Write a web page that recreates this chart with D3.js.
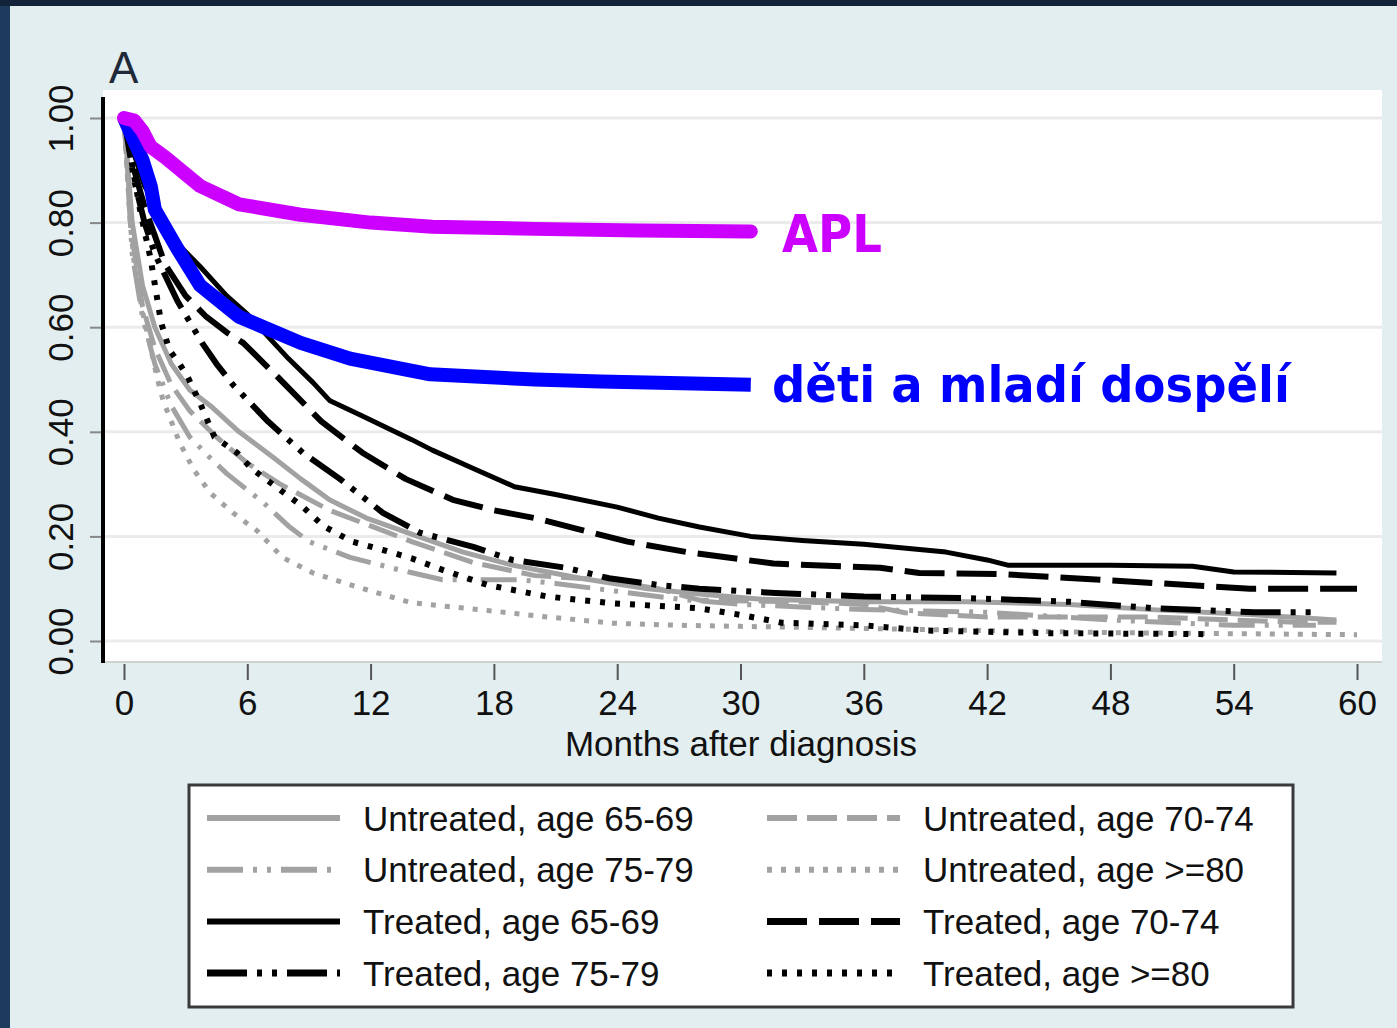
<!doctype html>
<html lang="cs">
  <head>
    <meta charset="utf-8">
    <title>Survival - months after diagnosis</title>
    <script src="https://cdn.jsdelivr.net/npm/d3@7"></script>
    <style>
      body { margin: 0; background: #e2eef0; }
      svg { display: block; }
    </style>
  </head>
  <body>
    <svg width="1397" height="1028"></svg>
    <script>
      // axis ticks
      var xTicks = [0, 6, 12, 18, 24, 30, 36, 42, 48, 54, 60];
      var yTicks = [0, 0.2, 0.4, 0.6, 0.8, 1.0];

      // [months, survival]
      var untreated6569 = [[0,1],[0.4,0.8],[0.9,0.68],[1.5,0.6],[2.3,0.53],[3.2,0.48],[4.2,0.45],[5.6,0.4],[7.3,0.35],[8.6,0.31],[10,0.27],[11.8,0.235],[14.3,0.2],[16.5,0.17],[18.9,0.145],[22.2,0.12],[25.5,0.1],[28,0.09],[31,0.08],[36,0.075],[41,0.075],[46,0.07],[50,0.06],[55,0.05],[59,0.04]];
      var untreated7074 = [[0,1],[0.4,0.77],[0.9,0.64],[1.5,0.56],[2.3,0.49],[3.2,0.44],[4.5,0.39],[6,0.34],[7.6,0.3],[10,0.25],[12,0.22],[14,0.19],[17,0.15],[20,0.125],[23,0.118],[26,0.1],[28,0.078],[33,0.075],[36,0.07],[38,0.054],[42,0.046],[50,0.046],[54,0.04],[57,0.036],[59,0.036]];
      var untreated7579 = [[0,1],[0.4,0.74],[0.9,0.62],[1.5,0.53],[2.3,0.45],[3.2,0.39],[4.2,0.35],[5,0.32],[6.8,0.264],[8,0.22],[9,0.19],[11,0.16],[13.4,0.136],[15.5,0.117],[19.3,0.117],[21,0.11],[24,0.095],[27,0.08],[30,0.07],[36,0.06],[42,0.055],[48,0.04],[54,0.03],[58,0.03]];
      var untreated80 = [[0,1],[0.3,0.8],[0.5,0.72],[0.9,0.63],[1.3,0.56],[1.6,0.505],[1.9,0.46],[2.7,0.38],[3.4,0.327],[4.2,0.283],[5.3,0.245],[6.5,0.21],[7.7,0.16],[9.2,0.13],[10.8,0.11],[12.5,0.09],[14,0.073],[17.3,0.06],[20.6,0.046],[23.8,0.034],[27,0.03],[30,0.028],[36,0.024],[42,0.02],[48,0.016],[54,0.014],[60,0.012]];
      var treated6569 = [[0,1],[0.5,0.93],[1,0.87],[1.6,0.83],[2.6,0.76],[3.7,0.716],[5,0.66],[6,0.625],[8,0.54],[9.2,0.494],[10,0.46],[11.6,0.43],[14,0.385],[15,0.365],[17,0.33],[19,0.295],[21,0.28],[24,0.256],[26,0.235],[28,0.218],[30.5,0.2],[33,0.192],[36,0.185],[40,0.17],[42,0.155],[43,0.145],[48,0.145],[52,0.143],[54,0.132],[59,0.13]];
      var treated7074 = [[0,1],[0.5,0.9],[1,0.83],[2,0.72],[3,0.66],[4,0.62],[5,0.59],[5.8,0.57],[7.6,0.5],[9.6,0.42],[11.6,0.36],[13.7,0.31],[16,0.27],[18,0.25],[20,0.235],[22,0.215],[24.5,0.19],[27.4,0.17],[31.6,0.148],[36.8,0.14],[38.7,0.13],[42.6,0.128],[47.5,0.117],[54.8,0.1],[60,0.1]];
      var treated7579 = [[0,1],[0.5,0.88],[1,0.8],[1.5,0.74],[2.6,0.65],[3.8,0.57],[4.5,0.53],[5.3,0.49],[7,0.42],[8.7,0.36],[10.5,0.31],[12.6,0.245],[14.4,0.207],[17,0.18],[18.9,0.155],[21.5,0.14],[23.6,0.12],[26,0.107],[28,0.1],[31.7,0.092],[36,0.085],[41,0.082],[46,0.075],[50,0.063],[55,0.055],[58.2,0.055]];
      var treated80 = [[0,1],[0.4,0.91],[0.8,0.82],[1.3,0.73],[1.8,0.61],[2.2,0.557],[2.7,0.53],[3.1,0.505],[3.7,0.455],[4.4,0.39],[5.5,0.36],[6.2,0.33],[7.9,0.28],[8.6,0.26],[9.7,0.22],[11.1,0.19],[12.6,0.174],[14,0.158],[15.5,0.136],[17.7,0.107],[20.6,0.085],[23.8,0.072],[27.9,0.063],[30,0.05],[32,0.035],[36,0.03],[39,0.02],[45,0.015],[53,0.013]];
      var apl = [[0,1],[0.5,0.995],[0.9,0.975],[1.3,0.945],[2,0.925],[3.7,0.87],[5.6,0.835],[8.6,0.815],[12,0.8],[15,0.792],[20,0.788],[25,0.785],[30.5,0.783]];
      var youngAdults = [[0,1],[0.9,0.92],[1.3,0.87],[1.5,0.825],[2.6,0.75],[3.7,0.68],[5.6,0.62],[8.6,0.57],[11,0.54],[14.9,0.51],[20,0.5],[23.2,0.496],[30.5,0.49]];

      var legendLabels = ["Untreated, age 65-69", "Untreated, age 70-74", "Untreated, age 75-79", "Untreated, age >=80",
                          "Treated, age 65-69", "Treated, age 70-74", "Treated, age 75-79", "Treated, age >=80"];

      var gray = "#a2a2a2";
      var series = [
        {data: untreated6569, color: gray, width: 5, dash: null},
        {data: untreated7074, color: gray, width: 5, dash: "30,10"},
        {data: untreated7579, color: gray, width: 5, dash: "36,10,4,10,4,10"},
        {data: untreated80, color: gray, width: 5, dash: "5,9"},
        {data: treated6569, color: "#000", width: 5, dash: null},
        {data: treated7074, color: "#000", width: 6, dash: "40,12"},
        {data: treated7579, color: "#000", width: 6, dash: "40,10,5,10,5,10"},
        {data: treated80, color: "#000", width: 6, dash: "5,10"}
      ];
      series.forEach(function(s, i) { s.label = legendLabels[i]; });

      var svg = d3.select("svg");
      var font = "'Liberation Sans', Arial, sans-serif";

      // dark frame of the slide
      svg.append("rect").attr("x", 0).attr("y", 0).attr("width", 10).attr("height", 1028).attr("fill", "#1d3b5c");
      svg.append("rect").attr("x", 0).attr("y", 0).attr("width", 1397).attr("height", 6).attr("fill", "#13243a");

      var x = d3.scaleLinear().domain([0, 60]).range([124, 1357]);
      var y = d3.scaleLinear().domain([0, 1]).range([641, 118]);

      // plot region
      svg.append("rect")
          .attr("x", 103).attr("y", 90)
          .attr("width", 1279).attr("height", 572)
          .attr("fill", "#fff");

      svg.append("g").selectAll("line")
        .data(yTicks)
        .enter().append("line")
          .attr("x1", 105).attr("x2", 1382)
          .attr("y1", function(d) { return y(d); })
          .attr("y2", function(d) { return y(d); })
          .attr("stroke", "#ebebeb")
          .attr("stroke-width", 3);

      svg.append("line")
          .attr("x1", 103).attr("x2", 1382)
          .attr("y1", 662).attr("y2", 662)
          .attr("stroke", "#d0d0d0").attr("stroke-width", 2);

      // y axis
      var yAxis = svg.append("g")
          .attr("transform", "translate(101,0)")
          .call(d3.axisLeft(y).tickValues(yTicks).tickSize(11).tickSizeOuter(0).tickFormat(d3.format(".2f")));
      yAxis.select(".domain").remove();
      yAxis.selectAll(".tick line").attr("stroke", "#888").attr("stroke-width", 2);
      yAxis.selectAll(".tick text")
          .attr("x", 0).attr("y", -28).attr("dy", 0)
          .attr("transform", "rotate(-90)")
          .attr("text-anchor", "middle")
          .attr("font-family", font).attr("font-size", 35).attr("fill", "#111");
      svg.append("line")
          .attr("x1", 103).attr("x2", 103)
          .attr("y1", 97).attr("y2", 663)
          .attr("stroke", "#000").attr("stroke-width", 4);

      // x axis
      var xAxis = svg.append("g")
          .attr("transform", "translate(0,664)")
          .call(d3.axisBottom(x).tickValues(xTicks).tickSize(16).tickSizeOuter(0));
      xAxis.select(".domain").remove();
      xAxis.selectAll(".tick line").attr("stroke", "#555").attr("stroke-width", 2);
      xAxis.selectAll(".tick text")
          .attr("y", 26).attr("dy", "0.71em")
          .attr("font-family", font).attr("font-size", 35).attr("fill", "#111");

      svg.append("text")
          .attr("x", 741).attr("y", 756)
          .attr("text-anchor", "middle")
          .attr("font-family", font).attr("font-size", 35).attr("fill", "#111")
          .text("Months after diagnosis");

      svg.append("text")
          .attr("x", 109).attr("y", 83)
          .attr("font-family", font).attr("font-size", 44).attr("fill", "#1e2a38")
          .text("A");

      var line = d3.line()
          .x(function(d) { return x(d[0]); })
          .y(function(d) { return y(d[1]); });

      svg.append("g").selectAll("path")
        .data(series)
        .enter().append("path")
          .attr("d", function(s) { return line(s.data); })
          .attr("fill", "none")
          .attr("stroke", function(s) { return s.color; })
          .attr("stroke-width", function(s) { return s.width; })
          .attr("stroke-dasharray", function(s) { return s.dash; })
          .attr("stroke-linejoin", "round");

      // overlay curves
      svg.append("path")
          .datum(youngAdults)
          .attr("d", line)
          .attr("fill", "none").attr("stroke", "#0000ff")
          .attr("stroke-width", 14).attr("stroke-linejoin", "round");
      svg.append("path")
          .datum(apl)
          .attr("d", line)
          .attr("fill", "none").attr("stroke", "#cc00ff")
          .attr("stroke-width", 14).attr("stroke-linejoin", "round").attr("stroke-linecap", "round");

      var bold = "'DejaVu Sans', Verdana, sans-serif";
      svg.append("text")
          .attr("x", 782).attr("y", 252)
          .attr("font-family", bold).attr("font-weight", "bold").attr("font-size", 52)
          .attr("textLength", 100).attr("lengthAdjust", "spacingAndGlyphs")
          .attr("fill", "#cc00ff")
          .text("APL");
      svg.append("text")
          .attr("x", 772).attr("y", 402)
          .attr("font-family", bold).attr("font-weight", "bold").attr("font-size", 50)
          .attr("textLength", 518).attr("lengthAdjust", "spacingAndGlyphs")
          .attr("fill", "#0000ff")
          .text("děti a mladí dospělí");

      // legend: untreated/treated pairs run across the two columns
      var legend = svg.append("g");
      legend.append("rect")
          .attr("x", 189).attr("y", 785)
          .attr("width", 1104).attr("height", 222)
          .attr("fill", "#fff").attr("stroke", "#3a3a3a").attr("stroke-width", 3);

      var item = legend.selectAll(".item")
        .data(series)
        .enter().append("g")
          .attr("class", "item")
          .attr("transform", function(s, i) {
            var col = i % 2, row = Math.floor(i / 2);
            return "translate(" + (col === 0 ? 207 : 767) + "," + (818 + row * 51.7) + ")";
          });

      item.append("line")
          .attr("x1", 0).attr("x2", 133)
          .attr("stroke", function(s) { return s.color; })
          .attr("stroke-width", function(s) { return s.width + 1; })
          .attr("stroke-dasharray", function(s) { return s.dash; });

      item.append("text")
          .attr("x", 156).attr("dy", "0.36em")
          .attr("font-family", font).attr("font-size", 35).attr("fill", "#111")
          .text(function(s) { return s.label; });
    </script>
  </body>
</html>
